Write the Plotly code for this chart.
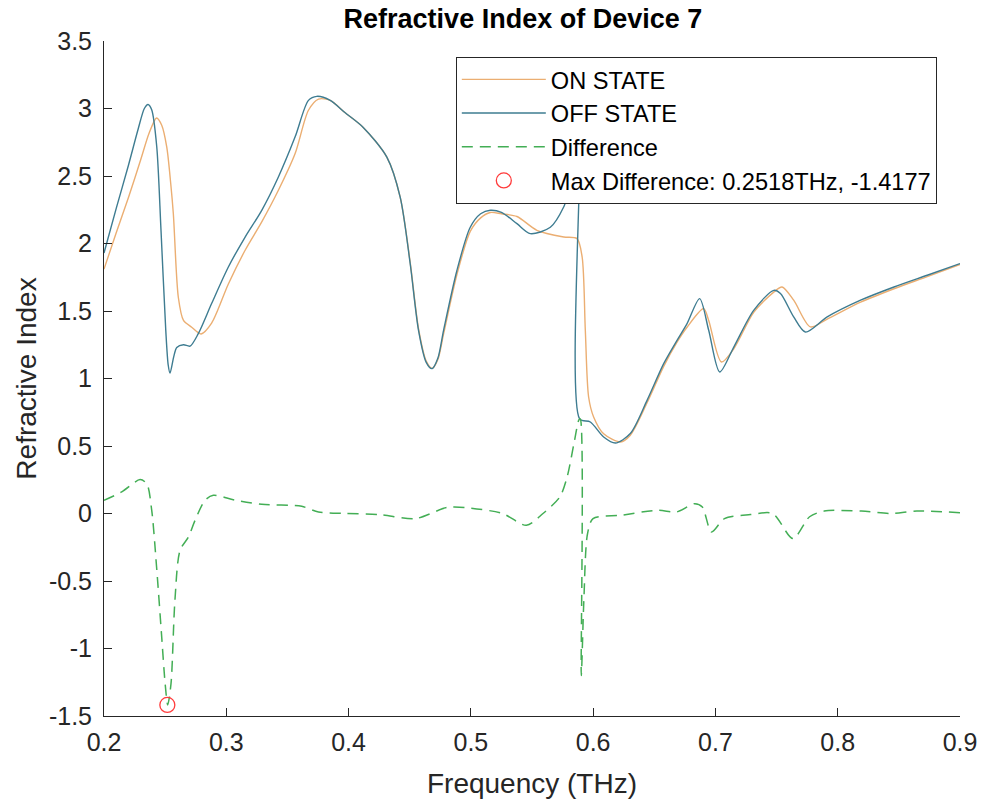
import plotly.graph_objects as go

# ---------------- data ----------------
off_x = [0.200, 0.210, 0.220, 0.228, 0.233, 0.236, 0.2390, 0.2431, 0.2466, 0.2505, 0.2525, 0.2540,
         0.2570, 0.2595, 0.2650, 0.2704, 0.2770, 0.2880, 0.3017, 0.3154, 0.3290, 0.3426, 0.3563,
         0.3672, 0.3740, 0.3850, 0.3970, 0.4120, 0.4313, 0.4422, 0.4504, 0.4572, 0.4635, 0.4682,
         0.4730, 0.4777, 0.4886, 0.4995, 0.5080, 0.5159, 0.5250, 0.5377, 0.5486, 0.5650, 0.5759,
         0.5786, 0.5830, 0.5885, 0.5890, 0.5977, 0.6086, 0.6182, 0.6304, 0.6441, 0.6577, 0.6686,
         0.6768, 0.6871, 0.6945, 0.7035, 0.7150, 0.7313, 0.7477, 0.7532, 0.7640, 0.7736, 0.7914,
         0.8187, 0.8460, 0.8732, 0.9000]
off_y = [1.93, 2.26, 2.58, 2.85, 3.00, 3.03, 2.99, 2.72, 2.10, 1.36, 1.10, 1.04,
         1.16, 1.23, 1.25, 1.24, 1.33, 1.555, 1.826, 2.048, 2.246, 2.493, 2.79,
         3.06, 3.09, 3.06, 2.97, 2.86, 2.64, 2.344, 1.85, 1.357, 1.12, 1.073,
         1.15, 1.357, 1.80, 2.12, 2.22, 2.246, 2.23, 2.147, 2.073, 2.12, 2.27,
         2.344, 2.55, 2.75, 0.70, 0.678, 0.567, 0.522, 0.592, 0.838, 1.11, 1.283,
         1.407, 1.592, 1.357, 1.048, 1.233, 1.505, 1.653, 1.629, 1.456, 1.344, 1.456,
         1.58, 1.678, 1.765, 1.851]

on_x = [0.200, 0.210, 0.220, 0.230, 0.237, 0.243, 0.2472, 0.2513, 0.2545, 0.2567, 0.2608, 0.2650,
        0.2717, 0.2794, 0.2880, 0.3017, 0.3154, 0.3290, 0.3426, 0.3563, 0.3672, 0.3754, 0.3850,
        0.3970, 0.4120, 0.4313, 0.4422, 0.4504, 0.4572, 0.4635, 0.4685, 0.4730, 0.4777, 0.4886,
        0.4995, 0.5080, 0.5159, 0.5250, 0.5377, 0.5540, 0.5760, 0.5868, 0.5910, 0.5936, 0.5963,
        0.6004, 0.6086, 0.6223, 0.6304, 0.6441, 0.6577, 0.6686, 0.6768, 0.6904, 0.6945, 0.7049,
        0.7150, 0.7313, 0.7477, 0.7545, 0.7640, 0.7777, 0.7914, 0.8187, 0.8460, 0.8732, 0.9000]
on_y = [1.81, 2.08, 2.34, 2.62, 2.82, 2.93, 2.876, 2.715, 2.45, 2.22, 1.60, 1.43,
        1.38, 1.33, 1.41, 1.70, 1.95, 2.16, 2.394, 2.666, 2.987, 3.07, 3.06,
        2.97, 2.86, 2.64, 2.344, 1.86, 1.37, 1.13, 1.075, 1.14, 1.33, 1.77,
        2.09, 2.19, 2.23, 2.22, 2.20, 2.098, 2.048, 2.036, 1.90, 1.357, 0.863,
        0.715, 0.59, 0.53, 0.58, 0.82, 1.09, 1.27, 1.38, 1.518, 1.43, 1.122,
        1.22, 1.49, 1.64, 1.678, 1.58, 1.382, 1.44, 1.565, 1.665, 1.755, 1.845]

diff_x = [0.200, 0.2145, 0.2295, 0.2350, 0.2390, 0.2430, 0.2470, 0.2500, 0.2521, 0.2548, 0.2580,
          0.2622, 0.2690, 0.2745, 0.2826, 0.2894, 0.3072, 0.3290, 0.3617, 0.3754, 0.3970, 0.4259,
          0.4546, 0.4803, 0.4955, 0.5258, 0.5454, 0.5590, 0.5727, 0.5787, 0.5848, 0.5884, 0.5895,
          0.5903, 0.5924, 0.5954, 0.5999, 0.6227, 0.6529, 0.6681, 0.6832, 0.6893, 0.6968, 0.7074,
          0.7286, 0.7467, 0.7634, 0.7770, 0.7890, 0.8194, 0.8436, 0.8647, 0.9000]
diff_y = [0.098, 0.16, 0.251, 0.22, 0.025, -0.396, -0.89, -1.26, -1.418, -1.26, -0.643,
          -0.273, -0.174, -0.05, 0.098, 0.135, 0.098, 0.068, 0.053, 0.011, 0.0, -0.008,
          -0.038, 0.044, 0.044, 0.0, -0.087, 0.0, 0.122, 0.27, 0.542, 0.695, 0.70,
          -1.20, -0.643, -0.15, -0.038, -0.013, 0.024, 0.011, 0.073, 0.048, -0.137, -0.038,
          -0.008, 0.0, -0.186, -0.024, 0.018, 0.018, 0.0, 0.018, 0.006]

max_x = [0.2518]
max_y = [-1.4177]

x_ticks = [0.2, 0.3, 0.4, 0.5, 0.6, 0.7, 0.8, 0.9]
x_labels = ["0.2", "0.3", "0.4", "0.5", "0.6", "0.7", "0.8", "0.9"]
y_ticks = [-1.5, -1.0, -0.5, 0.0, 0.5, 1.0, 1.5, 2.0, 2.5, 3.0, 3.5]
y_labels = ["-1.5", "-1", "-0.5", "0", "0.5", "1", "1.5", "2", "2.5", "3", "3.5"]

FONT = "Liberation Sans, Arial, Helvetica, sans-serif"
ON_COLOR = "#EBAE72"
OFF_COLOR = "#3E7C91"
DIFF_COLOR = "#43AE55"
MAX_COLOR = "#FF3B3B"

fig = go.Figure()
fig.add_trace(go.Scatter(x=on_x, y=on_y, mode="lines", name="ON STATE", legendgroup="a",
                         line=dict(color=ON_COLOR, width=1.4, shape="spline", smoothing=0.8)))
fig.add_trace(go.Scatter(x=off_x, y=off_y, mode="lines", name="OFF STATE", legendgroup="b",
                         line=dict(color=OFF_COLOR, width=1.4, shape="spline", smoothing=0.8)))
fig.add_trace(go.Scatter(x=diff_x, y=diff_y, mode="lines", name="Difference", legendgroup="c",
                         line=dict(color=DIFF_COLOR, width=1.5, dash="11px,7px",
                                   shape="spline", smoothing=0.8)))
fig.add_trace(go.Scatter(x=max_x, y=max_y, mode="markers",
                         name="Max Difference: 0.2518THz, -1.4177", legendgroup="d",
                         marker=dict(symbol="circle-open", size=15, color=MAX_COLOR,
                                     line=dict(width=1.3, color=MAX_COLOR))))

fig.update_layout(
    width=982, height=801,
    paper_bgcolor="white", plot_bgcolor="white",
    margin=dict(l=104, r=22, t=41, b=85, autoexpand=False),
    font=dict(family=FONT, color="#262626"),
    title=dict(text="<b>Refractive Index of Device 7</b>", x=0.5325, xanchor="center",
               y=0.977, yanchor="middle", yref="container",
               font=dict(size=27, color="#000000", family=FONT)),
    legend=dict(x=0.411, y=0.977, xanchor="left", yanchor="top",
                bgcolor="white", bordercolor="#262626", borderwidth=1,
                font=dict(size=23.6, family=FONT, color="#000000"),
                itemwidth=84, tracegroupgap=0),
    showlegend=True,
)
fig.update_xaxes(range=[0.2, 0.9], tickvals=x_ticks, ticktext=x_labels,
                 showline=True, linecolor="#262626", linewidth=1,
                 ticks="inside", ticklen=8, tickcolor="#262626",
                 showgrid=False, zeroline=False, automargin=False, ticklabelstandoff=4,
                 tickfont=dict(size=25, family=FONT, color="#262626"),
                 title=dict(text="Frequency (THz)", standoff=18,
                            font=dict(size=28, family=FONT, color="#262626")))
fig.update_yaxes(range=[-1.5, 3.5], tickvals=y_ticks, ticktext=y_labels,
                 showline=True, linecolor="#262626", linewidth=1,
                 ticks="inside", ticklen=8, tickcolor="#262626",
                 showgrid=False, zeroline=False, automargin=False, ticklabelstandoff=6,
                 tickfont=dict(size=25, family=FONT, color="#262626"),
                 title=dict(text="Refractive Index", standoff=4,
                            font=dict(size=28, family=FONT, color="#262626")))

fig.write_html("out.html")
